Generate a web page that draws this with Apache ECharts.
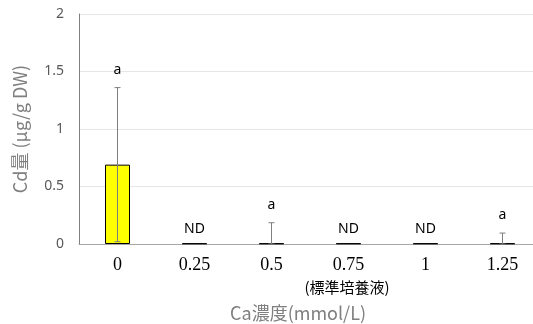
<!DOCTYPE html>
<html><head><meta charset="utf-8">
<script src="https://cdn.jsdelivr.net/npm/echarts@6/dist/echarts.min.js"></script>
<style>html,body{margin:0;padding:0;background:#fff}#c{width:533px;height:324px}</style>
</head><body><div id="c"></div>
<script>
const categories = ['0', '0.25', '0.5', '0.75', '1', '1.25'];
const means = [0.69, 0.005, 0.005, 0.005, 0.005, 0.005];
const errors = [0.67, 0, 0.18, 0, 0, 0.09];
const sigLabels = ['a', 'ND', 'a', 'ND', 'ND', 'a'];
const yTicks = [0, 0.5, 1, 1.5, 2];

const chart = echarts.init(document.getElementById('c'), null, {renderer: 'canvas'});
const errData = categories.map((c, i) => [i, means[i], errors[i]]);

chart.setOption({
  animation: false,
  grid: {left: 79, width: 462, top: 14, bottom: 80, containLabel: false, outerBoundsMode: 'none'},
  xAxis: {
    type: 'category', data: categories,
    axisLine: {lineStyle: {color: '#a6a6a6', width: 1}},
    axisTick: {show: false},
    axisLabel: {color: '#000', fontFamily: 'Liberation Serif', fontSize: 18, margin: 12}
  },
  yAxis: {
    type: 'value', min: 0, max: 2, interval: 0.5,
    name: 'Cd量 (μg/g DW)', nameLocation: 'middle', nameGap: 50,
    nameTextStyle: {color: '#7f7f7f', fontSize: 18, fontFamily: 'Noto Sans CJK JP'},
    axisLine: {show: true, lineStyle: {color: '#7f7f7f', width: 1}},
    axisTick: {show: false},
    splitLine: {lineStyle: {color: '#e6e6e6', width: 1}},
    axisLabel: {color: '#595959', fontSize: 14, fontFamily: 'Noto Sans', margin: 15,
      formatter: v => yTicks.includes(v) ? String(v) : ''}
  },
  series: [
    {
      type: 'bar', data: means, barWidth: 25,
      itemStyle: {color: '#ffff00', borderColor: '#000', borderWidth: 1}
    },
    {
      type: 'custom', data: errData, z: 10,
      renderItem: function (params, api) {
        const i = api.value(0), m = api.value(1), e = api.value(2);
        const lab = sigLabels[i];
        const top = api.coord([i, m + e]);
        const bot = api.coord([i, Math.max(m - e, 0)]);
        const children = [];
        if (e > 0) {
          const cap = 3;
          const st = {stroke: '#7f7f7f', lineWidth: 1};
          children.push({type: 'line', shape: {x1: top[0], y1: top[1], x2: bot[0], y2: bot[1]}, style: st});
          children.push({type: 'line', shape: {x1: top[0] - cap, y1: top[1], x2: top[0] + cap, y2: top[1]}, style: st});
          children.push({type: 'line', shape: {x1: bot[0] - cap, y1: bot[1], x2: bot[0] + cap, y2: bot[1]}, style: st});
        }
        const off = e > 0 ? 18 : 14;
        children.push({type: 'text', style: {x: top[0], y: top[1] - off, text: lab,
          fill: '#000', fontSize: 14, fontFamily: 'Noto Sans', align: 'center', verticalAlign: 'middle'}});
        return {type: 'group', children: children};
      }
    }
  ],
  graphic: [
    {type: 'text', x: 347, y: 287, style: {text: '(標準培養液)', fill: '#000', fontSize: 15,
      fontFamily: 'Noto Sans CJK JP', align: 'center', verticalAlign: 'middle'}},
    {type: 'text', x: 298, y: 313, style: {text: 'Ca濃度(mmol/L)', fill: '#7f7f7f', fontSize: 18,
      fontFamily: 'Noto Sans CJK JP', align: 'center', verticalAlign: 'middle'}}
  ]
});
</script></body></html>
